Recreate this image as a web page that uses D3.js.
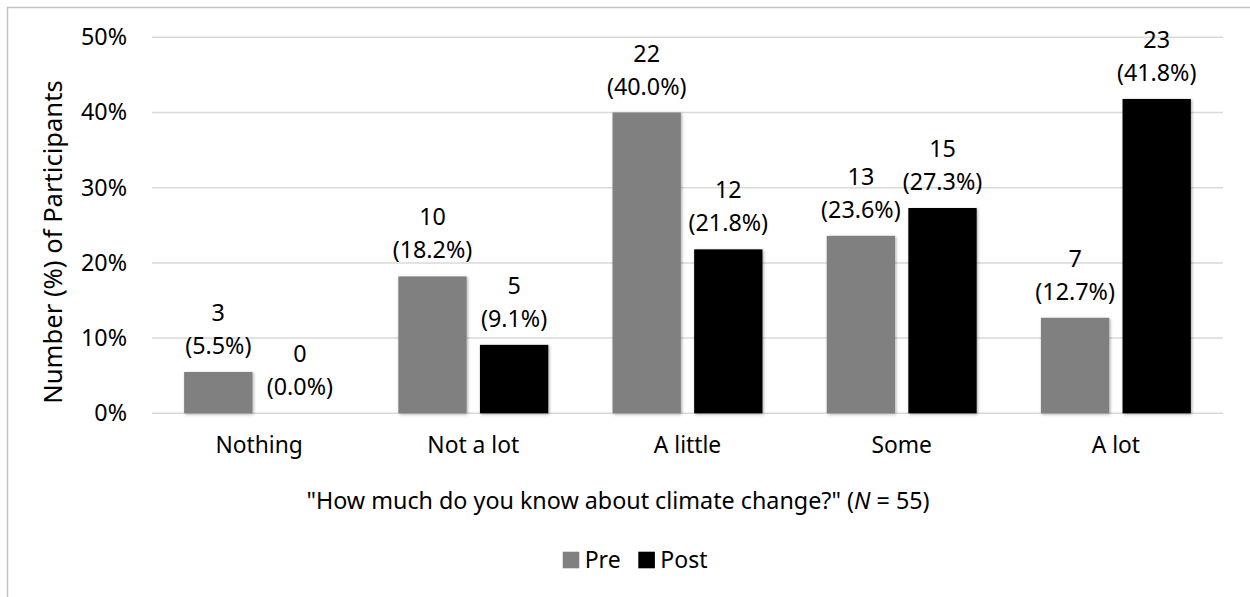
<!DOCTYPE html>
<html>
<head>
<meta charset="utf-8">
<script src="https://cdn.jsdelivr.net/npm/d3@7"></script>
<style>
  html, body { margin: 0; padding: 0; background: #fff; }
  svg { display: block; font-family: "Noto Sans", "Open Sans", sans-serif; }
</style>
</head>
<body>
<svg id="chart" width="1250" height="597"></svg>
<script>
// Responses to "How much do you know about climate change?"
const categories = ["Nothing", "Not a lot", "A little", "Some", "A lot"];
const seriesNames = ["Pre", "Post"];
const preCounts = [3, 10, 22, 13, 7];
const postCounts = [0, 5, 12, 15, 23];
const prePercents = [5.5, 18.2, 40.0, 23.6, 12.7];
const postPercents = [0.0, 9.1, 21.8, 27.3, 41.8];
const yTicks = [0, 10, 20, 30, 40, 50];
const seriesColors = ["#808080", "#000000"];

const rows = categories.map((c, i) => ({
  category: c,
  values: [
    { series: "Pre", count: preCounts[i], pct: prePercents[i] },
    { series: "Post", count: postCounts[i], pct: postPercents[i] }
  ]
}));

const svg = d3.select("#chart");
const plot = { left: 152, right: 1223, top: 37.3, bottom: 413.3 };
const tickFont = 23.3;
const labelFont = 23.3;
const catFont = 22.8;

// outer frame
svg.append("rect")
  .attr("x", 7.5).attr("y", 7.5)
  .attr("width", 1260).attr("height", 620)
  .attr("fill", "none").attr("stroke", "#c4c4c4").attr("stroke-width", 1.5);

const defs = svg.append("defs");
const shadow = defs.append("filter").attr("id", "barShadow")
  .attr("x", "-20%").attr("y", "-20%").attr("width", "140%").attr("height", "140%");
shadow.append("feDropShadow")
  .attr("dx", 1).attr("dy", 1).attr("stdDeviation", 1.4)
  .attr("flood-color", "#000").attr("flood-opacity", 0.35);

const x0 = d3.scaleBand()
  .domain(categories)
  .range([plot.left, plot.right])
  .paddingInner(0.3)
  .paddingOuter(0.15);

const x1 = d3.scaleBand()
  .domain(seriesNames)
  .range([0, x0.bandwidth()])
  .paddingInner(0.163)
  .paddingOuter(0);

const y = d3.scaleLinear().domain([0, 50]).range([plot.bottom, plot.top]);

// horizontal gridlines
svg.append("g")
  .selectAll("line")
  .data(yTicks)
  .join("line")
  .attr("x1", plot.left).attr("x2", plot.right)
  .attr("y1", d => y(d)).attr("y2", d => y(d))
  .attr("stroke", "#d9d9d9").attr("stroke-width", 1.5);

// y tick labels
const yAxis = d3.axisLeft(y).tickValues(yTicks).tickFormat(d => d + "%").tickSize(0).tickPadding(0);
const yAxisG = svg.append("g")
  .attr("transform", `translate(${plot.left - 25},0)`)
  .call(yAxis);
yAxisG.select(".domain").remove();
yAxisG.selectAll("text")
  .attr("font-size", tickFont)
  .attr("font-family", "Noto Sans, Open Sans, sans-serif")
  .attr("fill", "#000");

// x category labels
const xAxis = d3.axisBottom(x0).tickSize(0).tickPadding(0);
const xAxisG = svg.append("g")
  .attr("transform", `translate(0,${plot.bottom + 40})`)
  .call(xAxis);
xAxisG.select(".domain").remove();
xAxisG.selectAll("text")
  .attr("font-size", catFont)
  .attr("font-family", "Noto Sans, Open Sans, sans-serif")
  .attr("fill", "#000")
  .attr("y", 0)
  .attr("dy", "0");

// bars
const groups = svg.append("g")
  .selectAll("g")
  .data(rows)
  .join("g")
  .attr("transform", d => `translate(${x0(d.category)},0)`);

groups.selectAll("rect")
  .data(d => d.values)
  .join("rect")
  .attr("x", d => x1(d.series))
  .attr("width", x1.bandwidth())
  .attr("y", d => y(d.pct))
  .attr("height", d => y(0) - y(d.pct))
  .attr("fill", (d, i) => seriesColors[i])
  .attr("filter", d => d.pct > 0 ? "url(#barShadow)" : null);

// value labels: count on the first line, percentage below
const labels = groups.selectAll("text.value")
  .data(d => d.values)
  .join("text")
  .attr("class", "value")
  .attr("text-anchor", "middle")
  .attr("font-size", labelFont)
  .attr("fill", "#000")
  .attr("x", d => x1(d.series) + x1.bandwidth() / 2)
  .attr("y", d => y(d.pct) - 18);

labels.append("tspan")
  .attr("x", d => x1(d.series) + x1.bandwidth() / 2)
  .attr("dy", -33)
  .text(d => d.count);
labels.append("tspan")
  .attr("x", d => x1(d.series) + x1.bandwidth() / 2)
  .attr("dy", 33)
  .text(d => `(${d.pct.toFixed(1)}%)`);

// y axis title
svg.append("text")
  .attr("transform", `translate(62,242) rotate(-90)`)
  .attr("text-anchor", "middle")
  .attr("font-size", 25.6)
  .attr("fill", "#000")
  .text("Number (%) of Participants");

// x axis title
const xTitle = svg.append("text")
  .attr("x", 618)
  .attr("y", 509)
  .attr("text-anchor", "middle")
  .attr("font-size", 23.3)
  .attr("fill", "#000");
xTitle.append("tspan").text("\"How much do you know about climate change?\" (");
xTitle.append("tspan").attr("font-style", "italic").text("N");
xTitle.append("tspan").text(" = 55)");

// legend
const legendItems = [
  { name: "Pre", color: seriesColors[0], x: 562.7 },
  { name: "Post", color: seriesColors[1], x: 638.3 }
];
const legend = svg.append("g");
const li = legend.selectAll("g").data(legendItems).join("g")
  .attr("transform", d => `translate(${d.x},551.7)`);
li.append("rect").attr("width", 16.6).attr("height", 16.6).attr("fill", d => d.color);
li.append("text")
  .attr("x", 22).attr("y", 16.4)
  .attr("font-size", 23)
  .attr("fill", "#000")
  .text(d => d.name);
</script>
</body>
</html>
